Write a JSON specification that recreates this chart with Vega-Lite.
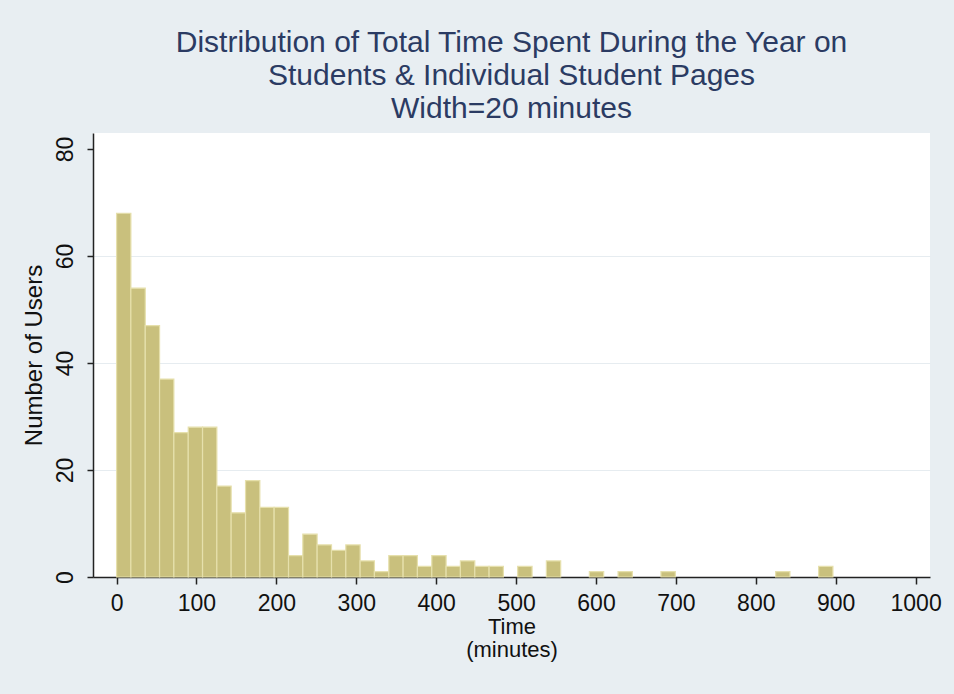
{
  "$schema": "https://vega.github.io/schema/vega-lite/v6.json",
  "width": 837,
  "height": 444,
  "autosize": {"type": "none"},
  "padding": {"left": 93, "top": 133, "right": 24, "bottom": 117},
  "background": "#E8EEF2",
  "title": {
    "text": ["Distribution of Total Time Spent During the Year on", "Students & Individual Student Pages", "Width=20 minutes"],
    "fontSize": 30,
    "font": "Liberation Sans",
    "fontWeight": "normal",
    "color": "#2B3B63",
    "anchor": "middle",
    "lineHeight": 33,
    "offset": 9
  },
  "config": {
    "view": {"fill": "white", "stroke": null},
    "font": "Liberation Sans"
  },
  "data": {
    "values": [
      {"start": 0, "end": 17.9, "users": 68},
      {"start": 17.9, "end": 35.9, "users": 54},
      {"start": 35.9, "end": 53.8, "users": 47},
      {"start": 53.8, "end": 71.7, "users": 37},
      {"start": 71.7, "end": 89.7, "users": 27},
      {"start": 89.7, "end": 107.6, "users": 28},
      {"start": 107.6, "end": 125.5, "users": 28},
      {"start": 125.5, "end": 143.4, "users": 17},
      {"start": 143.4, "end": 161.4, "users": 12},
      {"start": 161.4, "end": 179.3, "users": 18},
      {"start": 179.3, "end": 197.2, "users": 13},
      {"start": 197.2, "end": 215.2, "users": 13},
      {"start": 215.2, "end": 233.1, "users": 4},
      {"start": 233.1, "end": 251.0, "users": 8},
      {"start": 251.0, "end": 269.0, "users": 6},
      {"start": 269.0, "end": 286.9, "users": 5},
      {"start": 286.9, "end": 304.8, "users": 6},
      {"start": 304.8, "end": 322.7, "users": 3},
      {"start": 322.7, "end": 340.7, "users": 1},
      {"start": 340.7, "end": 358.6, "users": 4},
      {"start": 358.6, "end": 376.5, "users": 4},
      {"start": 376.5, "end": 394.5, "users": 2},
      {"start": 394.5, "end": 412.4, "users": 4},
      {"start": 412.4, "end": 430.3, "users": 2},
      {"start": 430.3, "end": 448.3, "users": 3},
      {"start": 448.3, "end": 466.2, "users": 2},
      {"start": 466.2, "end": 484.1, "users": 2},
      {"start": 502.0, "end": 520.0, "users": 2},
      {"start": 537.9, "end": 555.8, "users": 3},
      {"start": 591.7, "end": 609.6, "users": 1},
      {"start": 627.6, "end": 645.5, "users": 1},
      {"start": 681.3, "end": 699.3, "users": 1},
      {"start": 824.8, "end": 842.7, "users": 1},
      {"start": 878.6, "end": 896.5, "users": 2}
    ]
  },
  "mark": {"type": "bar", "color": "#C9C07D", "stroke": "#E6E0AC", "strokeWidth": 1.2},
  "encoding": {
    "x": {
      "field": "start",
      "type": "quantitative",
      "scale": {"domain": [-29.5, 1018], "nice": false, "zero": false},
      "axis": {
        "values": [0, 100, 200, 300, 400, 500, 600, 700, 800, 900, 1000],
        "format": "d",
        "grid": false,
        "title": ["Time", "(minutes)"],
        "titleFontSize": 22,
        "titleFontWeight": "normal",
        "titleColor": "#111",
        "titleLineHeight": 23,
        "titlePadding": 1,
        "labelFontSize": 23,
        "labelColor": "#111",
        "labelPadding": 8,
        "tickSize": 7,
        "tickWidth": 1.5,
        "tickColor": "#222",
        "domainColor": "#222",
        "domainWidth": 1.5
      }
    },
    "x2": {"field": "end"},
    "y": {
      "field": "users",
      "type": "quantitative",
      "scale": {"domain": [0, 83], "nice": false},
      "axis": {
        "values": [0, 20, 40, 60, 80],
        "grid": true,
        "gridColor": "#E6ECF0",
        "gridWidth": 1.2,
        "gridOpacity": {"condition": {"test": "datum.value == 80 || datum.value == 0", "value": 0}, "value": 1},
        "title": "Number of Users",
        "titleFontSize": 24,
        "titleFontWeight": "normal",
        "titleColor": "#111",
        "titlePadding": 8,
        "labelFontSize": 23,
        "labelColor": "#111",
        "labelAngle": -90,
        "labelPadding": 10,
        "tickSize": 6,
        "tickWidth": 1.5,
        "tickColor": "#222",
        "domainColor": "#222",
        "domainWidth": 1.5
      }
    },
    "y2": {"datum": 0}
  }
}
